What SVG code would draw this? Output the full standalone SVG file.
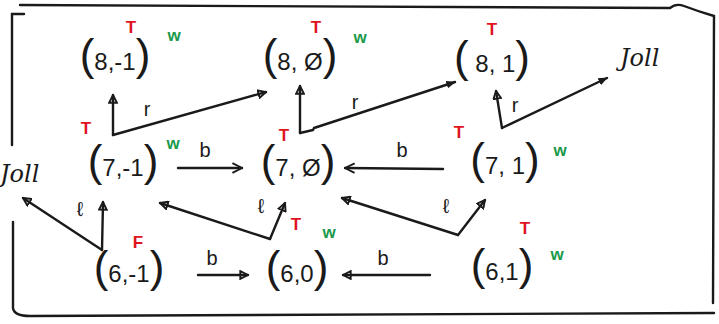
<svg xmlns="http://www.w3.org/2000/svg" width="719" height="324" viewBox="0 0 719 324">
<style>
.n{font-family:"Liberation Sans",Arial,sans-serif;font-size:24px;fill:#1a1a1a;text-anchor:middle}
.p{font-size:44px}
.t{font-family:"Liberation Sans",Arial,sans-serif;font-size:17px;font-weight:bold;fill:#e0141e;text-anchor:middle}
.w{font-family:"Liberation Sans",Arial,sans-serif;font-size:17px;font-weight:bold;fill:#1a9a4a;text-anchor:middle}
.lb{font-family:"Liberation Sans",Arial,sans-serif;font-size:20px;fill:#1a1a1a;text-anchor:middle}
.hw{font-family:"DejaVu Serif","Liberation Serif",serif;font-style:italic;font-size:24px;fill:#1a1a1a}
.e{fill:none;stroke:#1a1a1a;stroke-width:2.4;stroke-linecap:round;stroke-linejoin:round}
.border{fill:none;stroke:#1a1a1a;stroke-width:2.4;stroke-linecap:round}
</style>
<defs>
<marker id="tri" viewBox="0 0 10 10" refX="9" refY="5" markerWidth="4" markerHeight="4" orient="auto">
<path d="M1,1 L9,5 L1,9 Z" fill="none" stroke="#1a1a1a" stroke-width="2"/>
</marker>
<marker id="fill" viewBox="0 0 10 10" refX="9" refY="5" markerWidth="4" markerHeight="4" orient="auto">
<path d="M0,1 L10,5 L0,9 Z" fill="#1a1a1a"/>
</marker>
<marker id="chev" viewBox="0 0 10 10" refX="9" refY="5" markerWidth="5" markerHeight="5" orient="auto">
<path d="M1,1 L9,5 L1,9" fill="none" stroke="#1a1a1a" stroke-width="1.6"/>
</marker>
</defs>
<rect width="719" height="324" fill="#ffffff"/>
<g id="border">
<path class="border" d="M20,5 L670,8 Q676,3 684,6 Q700,12 714,16 L713,303"/>
<path class="border" d="M24,14 L12,14 L12,145"/>
<path class="border" d="M13,222 L13,308 Q14,316 30,316 L714,313"/>
</g>
<g id="connectors">
<path class="e" d="M113,135 L113,95" marker-end="url(#tri)"/>
<path class="e" d="M113,135 L266,92" marker-end="url(#tri)"/>
<text class="lb" x="147" y="116">r</text>
<path class="e" d="M300,133 L300,86" marker-end="url(#tri)"/>
<path class="e" d="M300,133 L313,130 L314,128 L455,82" marker-end="url(#fill)"/>
<text class="lb" x="355" y="109">r</text>
<path class="e" d="M502,128 L496,91" marker-end="url(#tri)"/>
<path class="e" d="M502,128 L607,78" marker-end="url(#fill)"/>
<text class="lb" x="515" y="112">r</text>
<path class="e" d="M178,168 L242,168" marker-end="url(#chev)"/>
<text class="lb" x="205" y="157">b</text>
<path class="e" d="M443,169 L345,168" marker-end="url(#chev)"/>
<text class="lb" x="402" y="157">b</text>
<path class="e" d="M102,250 L103,202" marker-end="url(#tri)"/>
<path class="e" d="M102,250 L23,198" marker-end="url(#tri)"/>
<text class="lb" x="80" y="216">ℓ</text>
<path class="e" d="M270,239 L285,203" marker-end="url(#tri)"/>
<path class="e" d="M270,239 L160,203" marker-end="url(#tri)"/>
<text class="lb" x="261" y="213">ℓ</text>
<path class="e" d="M458,235 L485,200" marker-end="url(#tri)"/>
<path class="e" d="M458,235 L342,198" marker-end="url(#tri)"/>
<text class="lb" x="446" y="213">ℓ</text>
<path class="e" d="M198,275 L248,275" marker-end="url(#tri)"/>
<text class="lb" x="212" y="265">b</text>
<path class="e" d="M430,275 L343,275" marker-end="url(#tri)"/>
<text class="lb" x="383" y="265">b</text>
</g>
<g id="n8m1">
<text class="n" x="115" y="70"><tspan class="p">(</tspan>8,-1<tspan class="p">)</tspan></text>
<text class="t" x="131" y="33">T</text>
<text class="w" x="174" y="41">w</text>
</g>
<g id="n80">
<text class="n" x="300" y="70"><tspan class="p">(</tspan>8, Ø<tspan class="p">)</tspan></text>
<text class="t" x="316" y="33">T</text>
<text class="w" x="360" y="43">w</text>
</g>
<g id="n81">
<text class="n" x="492" y="72"><tspan class="p">(</tspan> 8, 1<tspan class="p">)</tspan></text>
<text class="t" x="492" y="35">T</text>
</g>
<g id="jole">
<text class="hw" x="620" y="66">Joll</text>
</g>
<g id="n7m1">
<text class="n" x="123" y="176"><tspan class="p">(</tspan>7,-1<tspan class="p">)</tspan></text>
<text class="t" x="86" y="134">T</text>
<text class="w" x="173" y="149">w</text>
</g>
<g id="n70">
<text class="n" x="298" y="176"><tspan class="p">(</tspan>7, Ø<tspan class="p">)</tspan></text>
<text class="t" x="284" y="141">T</text>
</g>
<g id="n71">
<text class="n" x="505" y="174"><tspan class="p">(</tspan>7, 1<tspan class="p">)</tspan></text>
<text class="t" x="459" y="138">T</text>
<text class="w" x="560" y="156">w</text>
</g>
<g id="joll">
<text class="hw" x="0" y="182">Joll</text>
</g>
<g id="n6m1">
<text class="n" x="129" y="282"><tspan class="p">(</tspan>6,-1<tspan class="p">)</tspan></text>
<text class="t" x="138" y="248">F</text>
</g>
<g id="n60">
<text class="n" x="297" y="282"><tspan class="p">(</tspan>6,0<tspan class="p">)</tspan></text>
<text class="t" x="296" y="230">T</text>
<text class="w" x="329" y="238">w</text>
</g>
<g id="n61">
<text class="n" x="502" y="280"><tspan class="p">(</tspan>6,1<tspan class="p">)</tspan></text>
<text class="t" x="525" y="234">T</text>
<text class="w" x="557" y="260">w</text>
</g>
</svg>
